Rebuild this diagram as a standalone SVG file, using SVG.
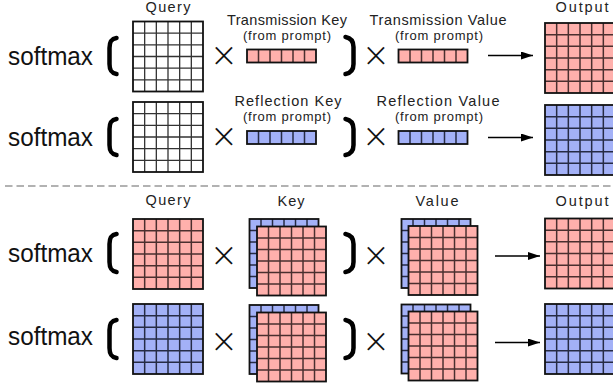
<svg xmlns="http://www.w3.org/2000/svg" xmlns:xlink="http://www.w3.org/1999/xlink" width="613" height="383" viewBox="0 0 613 383">
<style>
.bg{fill:#fff}
.sm{font-family:"Liberation Sans",Arial,sans-serif;font-size:26px;fill:#111}
.lb{font-family:"Liberation Sans",Arial,sans-serif;font-size:14.5px;fill:#222;text-anchor:middle}
.fp{font-family:"Liberation Sans",Arial,sans-serif;font-size:13px;fill:#222;text-anchor:middle}
.x{font-family:"Open Sans","Liberation Sans",sans-serif;font-weight:300;font-size:40px;fill:#111;text-anchor:middle}
.w{fill:#fff}
.p{fill:#FFB0AC}
.b{fill:#A3B1F7}
.bd{fill:none;stroke:#111;stroke-width:1.8}
.lw{fill:none;stroke:#333;stroke-width:1.3}
.lp{fill:none;stroke:#4a2f2f;stroke-width:1.5}
.lbl{fill:none;stroke:#262b45;stroke-width:1.5}
.br{fill:none;stroke:#000;stroke-width:4.5;stroke-linecap:round}
.ar{stroke:#000;stroke-width:1.6}
</style>
<defs>
<path id="gl" d="M11.67 0V70M23.33 0V70M35 0V70M46.67 0V70M58.33 0V70M0 11.67H70M0 23.33H70M0 35H70M0 46.67H70M0 58.33H70"/>
<path id="bl" d="M11.5 0V13M23 0V13M34.5 0V13M46 0V13M57.5 0V13"/>
<marker id="ah" viewBox="0 0 12 8" refX="12" refY="4" markerWidth="12" markerHeight="8" markerUnits="userSpaceOnUse" orient="auto">
<path d="M0 0L12 4L0 8z" fill="#000"/>
</marker>
</defs>
<rect class="bg" x="0" y="0" width="613" height="383"/>

<g id="labels">
<text class="sm" x="8" y="65" textLength="85" lengthAdjust="spacingAndGlyphs">softmax</text>
<text class="sm" x="8" y="146" textLength="85" lengthAdjust="spacingAndGlyphs">softmax</text>
<text class="sm" x="8" y="262" textLength="85" lengthAdjust="spacingAndGlyphs">softmax</text>
<text class="sm" x="8" y="345" textLength="85" lengthAdjust="spacingAndGlyphs">softmax</text>
<text class="lb" x="168" y="12" textLength="45">Query</text>
<text class="lb" x="287" y="25" textLength="120">Transmission Key</text>
<text class="fp" x="287" y="40" textLength="88">(from prompt)</text>
<text class="lb" x="438" y="25" textLength="137">Transmission Value</text>
<text class="fp" x="439" y="40" textLength="88">(from prompt)</text>
<text class="lb" x="582" y="12" textLength="53">Output</text>
<text class="lb" x="288" y="106" textLength="107">Reflection Key</text>
<text class="fp" x="287" y="121" textLength="88">(from prompt)</text>
<text class="lb" x="438" y="106" textLength="123">Reflection Value</text>
<text class="fp" x="439" y="121" textLength="88">(from prompt)</text>
<text class="lb" x="168" y="205" textLength="45">Query</text>
<text class="lb" x="291" y="206" textLength="27">Key</text>
<text class="lb" x="437" y="206" textLength="43">Value</text>
<text class="lb" x="582" y="206" textLength="53">Output</text>
</g>

<g id="operators">
<text class="x" x="224" y="70">×</text>
<text class="x" x="224" y="151">×</text>
<text class="x" x="376" y="70">×</text>
<text class="x" x="376" y="151">×</text>
<text class="x" x="224" y="269.5">×</text>
<text class="x" x="224" y="356">×</text>
<text class="x" x="376" y="269.5">×</text>
<text class="x" x="376" y="356">×</text>
</g>

<g id="brackets">
<path class="br" d="M116.5 38C111 39 109.5 42 109.5 48V64C109.5 70 111 73 116.5 74"/>
<path class="br" d="M116.5 119C111 120 109.5 123 109.5 129V145C109.5 151 111 154 116.5 155"/>
<path class="br" d="M116.5 234C111 235 109.5 238 109.5 244V262C109.5 268 111 271 116.5 272"/>
<path class="br" d="M116.5 320C111 321 109.5 324 109.5 330V348C109.5 354 111 357 116.5 358"/>
<path class="br" d="M345.5 37C351 38 353.5 41 353.5 47V64C353.5 70 351 73 345.5 74"/>
<path class="br" d="M345.5 119C351 120 353.5 123 353.5 129V145C353.5 151 351 154 345.5 155"/>
<path class="br" d="M345.5 234C351 235 353.5 238 353.5 244V262C353.5 268 351 271 345.5 272"/>
<path class="br" d="M345.5 320C351 321 353.5 324 353.5 330V348C353.5 354 351 357 345.5 358"/>
</g>

<g id="divider">
<line x1="5" y1="186" x2="613" y2="186" stroke="#999" stroke-width="1.3" stroke-dasharray="7.5 4"/>
</g>

<g id="t-query1" transform="translate(133 21.5)">
<rect class="w" width="70" height="70"/><use xlink:href="#gl" class="lw"/><rect class="bd" width="70" height="70"/>
</g>
<g id="t-query2" transform="translate(133 102)">
<rect class="w" width="70" height="70"/><use xlink:href="#gl" class="lw"/><rect class="bd" width="70" height="70"/>
</g>
<g id="t-key1" transform="translate(247 49.5)">
<rect class="p" width="69" height="13"/><use xlink:href="#bl" class="lp"/><rect class="bd" width="69" height="13"/>
</g>
<g id="t-key2" transform="translate(247 131)">
<rect class="b" width="69" height="13"/><use xlink:href="#bl" class="lbl"/><rect class="bd" width="69" height="13"/>
</g>
<g id="t-value1" transform="translate(398.5 49.5)">
<rect class="p" width="69" height="13"/><use xlink:href="#bl" class="lp"/><rect class="bd" width="69" height="13"/>
</g>
<g id="t-value2" transform="translate(398.5 131)">
<rect class="b" width="69" height="13"/><use xlink:href="#bl" class="lbl"/><rect class="bd" width="69" height="13"/>
</g>
<g id="t-output1" transform="translate(545 23)">
<rect class="p" width="70" height="70"/><use xlink:href="#gl" class="lp"/><rect class="bd" width="70" height="70"/>
</g>
<g id="t-output2" transform="translate(545 105)">
<rect class="b" width="70" height="70"/><use xlink:href="#gl" class="lbl"/><rect class="bd" width="70" height="70"/>
</g>

<g id="b-query1" transform="translate(133 219)">
<rect class="p" width="70" height="70"/><use xlink:href="#gl" class="lp"/><rect class="bd" width="70" height="70"/>
</g>
<g id="b-query2" transform="translate(133 304)">
<rect class="b" width="70" height="70"/><use xlink:href="#gl" class="lbl"/><rect class="bd" width="70" height="70"/>
</g>
<g id="b-key1">
<g transform="translate(249.5 219)"><rect class="b" width="69" height="69"/><use xlink:href="#gl" class="lbl" transform="scale(0.986)"/><rect class="bd" width="69" height="69"/></g>
<g transform="translate(257 226.5)"><rect class="p" width="69" height="69"/><use xlink:href="#gl" class="lp" transform="scale(0.986)"/><rect class="bd" width="69" height="69"/></g>
</g>
<g id="b-key2">
<g transform="translate(249.5 305)"><rect class="b" width="69" height="69"/><use xlink:href="#gl" class="lbl" transform="scale(0.986)"/><rect class="bd" width="69" height="69"/></g>
<g transform="translate(257 312.5)"><rect class="p" width="69" height="69"/><use xlink:href="#gl" class="lp" transform="scale(0.986)"/><rect class="bd" width="69" height="69"/></g>
</g>
<g id="b-value1">
<g transform="translate(401.5 219)"><rect class="b" width="69" height="69"/><use xlink:href="#gl" class="lbl" transform="scale(0.986)"/><rect class="bd" width="69" height="69"/></g>
<g transform="translate(408.5 226)"><rect class="p" width="69" height="69"/><use xlink:href="#gl" class="lp" transform="scale(0.986)"/><rect class="bd" width="69" height="69"/></g>
</g>
<g id="b-value2">
<g transform="translate(401.5 304.5)"><rect class="b" width="69" height="69"/><use xlink:href="#gl" class="lbl" transform="scale(0.986)"/><rect class="bd" width="69" height="69"/></g>
<g transform="translate(408.5 311.5)"><rect class="p" width="69" height="69"/><use xlink:href="#gl" class="lp" transform="scale(0.986)"/><rect class="bd" width="69" height="69"/></g>
</g>
<g id="b-output1" transform="translate(545 218.5)">
<rect class="p" width="70" height="70"/><use xlink:href="#gl" class="lp"/><rect class="bd" width="70" height="70"/>
</g>
<g id="b-output2" transform="translate(545 304)">
<rect class="b" width="70" height="70"/><use xlink:href="#gl" class="lbl"/><rect class="bd" width="70" height="70"/>
</g>

<g id="connectors">
<line class="ar" x1="488" y1="55.5" x2="533" y2="55.5" marker-end="url(#ah)"/>
<line class="ar" x1="488" y1="137.5" x2="533" y2="137.5" marker-end="url(#ah)"/>
<line class="ar" x1="495" y1="256" x2="540" y2="256" marker-end="url(#ah)"/>
<line class="ar" x1="495" y1="342.5" x2="540" y2="342.5" marker-end="url(#ah)"/>
</g>
</svg>
